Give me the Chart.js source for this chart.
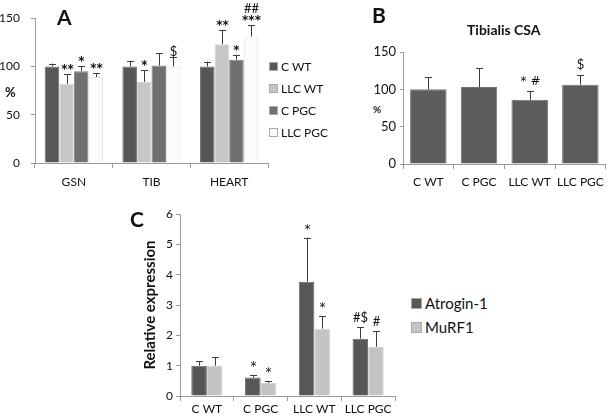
<!DOCTYPE html>
<html>
<head>
<meta charset="utf-8">
<script src="https://cdn.jsdelivr.net/npm/chart.js@4.4.1/dist/chart.umd.min.js"></script>
<style>
  body { margin: 0; background: #fff; font-family: Lato, "Open Sans", sans-serif; }
  #wrap { position: relative; width: 610px; height: 418px; overflow: hidden; background: #fff; }
  canvas, .txt, .legend { position: absolute; }
  .txt { color: #111; white-space: nowrap; }
  .legend div { height: 22px; line-height: 22px; font-size: 12px; color: #111; }
  .legend span { display: inline-block; width: 7px; height: 7px; margin-right: 3px; border: 1px solid #aaa; vertical-align: 0px; }
</style>
</head>
<body>
<div id="wrap">
  <canvas id="chartA" width="272" height="200" style="left:0;top:0"></canvas>
  <canvas id="chartB" width="250" height="200" style="left:360px;top:0"></canvas>
  <canvas id="chartC" width="270" height="218" style="left:130px;top:200px"></canvas>

  <div class="txt" style="left:57px;top:4px;font-size:21px;font-weight:bold">A</div>
  <div class="txt" style="left:372px;top:2px;font-size:21px;font-weight:bold">B</div>
  <div class="txt" style="left:130px;top:206px;font-size:21px;font-weight:bold">C</div>
  <div class="txt" style="left:5px;top:84px;font-size:13px;font-weight:bold">%</div>
  <div class="txt" style="left:373px;top:103px;font-size:10px;font-weight:bold">%</div>
  <div class="txt" style="left:467px;top:21px;font-size:14px;font-weight:bold">Tibialis CSA</div>

  <div class="legend" id="legendA" style="left:269px;top:56px"></div>
  <div class="legend" id="legendC" style="left:411px;top:291px"></div>
</div>
<script>
// ---- panel A: organ mass (%)
const organs = ['GSN', 'TIB', 'HEART'];
const groupsA = ['C WT', 'LLC WT', 'C PGC', 'LLC PGC'];
const colorsA = ['#575757', '#c6c6c6', '#707070', '#fbfbfb'];
const cWtA = [100, 100, 100];
const llcWtA = [82, 84, 123];
const cPgcA = [95, 101, 107];
const llcPgcA = [89, 100, 131];
const cWtErrA = [3, 6, 5];
const llcWtErrA = [10, 12, 15];
const cPgcErrA = [5, 13, 5];
const llcPgcErrA = [4, 10, 12];
const llcWtMarkA = ['**', '*', '**'];
const cPgcMarkA = ['*', '', '*'];
const llcPgcMarkA = ['**', '$', '##\n***'];

// ---- panel B: tibialis CSA (%)
const groupsB = ['C WT', 'C PGC', 'LLC WT', 'LLC PGC'];
const csaB = [100, 103, 86, 106];
const csaErrB = [16, 25, 12, 13];
const csaMarkB = ['', '', '* #', '$'];

// ---- panel C: relative expression
const genes = ['Atrogin-1', 'MuRF1'];
const colorsC = ['#575757', '#c3c3c3'];
const atroginC = [1.0, 0.61, 3.77, 1.89];
const murfC = [1.0, 0.43, 2.22, 1.62];
const atroginErrC = [0.15, 0.07, 1.45, 0.38];
const murfErrC = [0.29, 0.07, 0.41, 0.52];
const atroginMarkC = ['', '*', '*', '#$'];
const murfMarkC = ['', '*', '*', '#'];

const FONT = 'Lato, "Open Sans", sans-serif';
const MARK_FONT = '"DejaVu Sans", Lato, sans-serif';

const errorBars = {
  id: 'errorBars',
  afterDatasetsDraw(chart, args, opts) {
    const ctx = chart.ctx;
    const y = chart.scales.y;
    chart.data.datasets.forEach((ds, di) => {
      const meta = chart.getDatasetMeta(di);
      meta.data.forEach((bar, i) => {
        const top = y.getPixelForValue(ds.data[i] + ds.errors[i]);
        const x = Math.round(bar.x) + 0.5;
        ctx.save();
        ctx.strokeStyle = '#3c3c3c';
        ctx.lineWidth = 1;
        ctx.beginPath();
        ctx.moveTo(x, bar.y);
        ctx.lineTo(x, top);
        ctx.moveTo(x - 3.5, Math.round(top) + 0.5);
        ctx.lineTo(x + 3.5, Math.round(top) + 0.5);
        ctx.stroke();
        const mark = ds.marks && ds.marks[i];
        if (mark) {
          ctx.fillStyle = '#111';
          ctx.textAlign = 'center';
          ctx.textBaseline = 'alphabetic';
          const lines = mark.split('\n').reverse();
          lines.forEach((t, k) => {
            const star = t.indexOf('*') >= 0;
            ctx.font = star
              ? (opts.bold ? 'bold ' : '') + opts.starSize + 'px ' + MARK_FONT
              : opts.size + 'px ' + FONT;
            ctx.fillText(t, x, top - opts.gap - k * opts.lineHeight);
          });
        }
        ctx.restore();
      });
    });
  }
};

function axes(opts) {
  return {
    x: {
      afterFit: s => { s.height = opts.xh; },
      grid: { display: true, drawOnChartArea: false, offset: true, tickLength: 5, color: '#9a9a9a' },
      border: { color: '#9a9a9a' },
      ticks: { color: '#111', font: { family: FONT, size: opts.xSize }, padding: opts.xPad, maxRotation: 0, autoSkip: false }
    },
    y: {
      min: 0, max: opts.max,
      afterFit: s => { s.width = opts.yw; },
      grid: { display: true, drawOnChartArea: false, tickLength: opts.yTick, color: '#9a9a9a' },
      border: { color: '#9a9a9a' },
      ticks: { stepSize: opts.step, color: '#111', font: { family: FONT, size: opts.ySize }, padding: opts.yPad },
      title: opts.title || { display: false }
    }
  };
}

const base = {
  responsive: false,
  animation: false,
  devicePixelRatio: 1,
};

new Chart(document.getElementById('chartA'), {
  type: 'bar',
  data: {
    labels: organs,
    datasets: [
      { label: groupsA[0], data: cWtA, errors: cWtErrA, marks: [], backgroundColor: colorsA[0], borderColor: '#6a6a6a', borderWidth: 1 },
      { label: groupsA[1], data: llcWtA, errors: llcWtErrA, marks: llcWtMarkA, backgroundColor: colorsA[1], borderColor: '#d6d6d6', borderWidth: 1 },
      { label: groupsA[2], data: cPgcA, errors: cPgcErrA, marks: cPgcMarkA, backgroundColor: colorsA[2], borderColor: '#828282', borderWidth: 1 },
      { label: groupsA[3], data: llcPgcA, errors: llcPgcErrA, marks: llcPgcMarkA, backgroundColor: colorsA[3], borderColor: '#e4e4e4', borderWidth: 1 }
    ]
  },
  options: Object.assign({}, base, {
    layout: { padding: { top: 17, right: 4, left: 0, bottom: 0 } },
    datasets: { bar: { categoryPercentage: 0.75, barPercentage: 1 } },
    plugins: { legend: { display: false }, tooltip: { enabled: false },
      errorBars: { size: 13, starSize: 12, gap: 1, lineHeight: 11, bold: true } },
    scales: axes({ xh: 37, yw: 35, max: 150, step: 50, xSize: 12, ySize: 12, xPad: 7, yPad: 11, yTick: 4 })
  }),
  plugins: [errorBars]
});

new Chart(document.getElementById('chartB'), {
  type: 'bar',
  data: {
    labels: groupsB,
    datasets: [
      { label: 'Tibialis CSA', data: csaB, errors: csaErrB, marks: csaMarkB, backgroundColor: '#5c5c5c', borderColor: '#707070', borderWidth: 1 }
    ]
  },
  options: Object.assign({}, base, {
    layout: { padding: { top: 52, right: 1, left: 0, bottom: 0 } },
    datasets: { bar: { categoryPercentage: 0.72, barPercentage: 1 } },
    plugins: { legend: { display: false }, tooltip: { enabled: false },
      errorBars: { size: 13, starSize: 12, gap: 6, lineHeight: 12, bold: false } },
    scales: axes({ xh: 36, yw: 43, max: 150, step: 50, xSize: 12, ySize: 13, xPad: 6, yPad: 4, yTick: 3 })
  }),
  plugins: [errorBars]
});

new Chart(document.getElementById('chartC'), {
  type: 'bar',
  data: {
    labels: groupsB,
    datasets: [
      { label: genes[0], data: atroginC, errors: atroginErrC, marks: atroginMarkC, backgroundColor: colorsC[0], borderColor: '#6a6a6a', borderWidth: 1 },
      { label: genes[1], data: murfC, errors: murfErrC, marks: murfMarkC, backgroundColor: colorsC[1], borderColor: '#d2d2d2', borderWidth: 1 }
    ]
  },
  options: Object.assign({}, base, {
    layout: { padding: { top: 14, right: 5, left: 0, bottom: 0 } },
    datasets: { bar: { categoryPercentage: 0.58, barPercentage: 1 } },
    plugins: { legend: { display: false }, tooltip: { enabled: false },
      errorBars: { size: 13, starSize: 12, gap: 5, lineHeight: 12, bold: false } },
    scales: axes({ xh: 22, yw: 50, max: 6, step: 1, xSize: 12, ySize: 12, xPad: 1, yPad: 3, yTick: 4,
      title: { display: true, text: 'Relative expression', color: '#111',
               font: { family: FONT, size: 15, weight: 'bold' }, padding: { top: 11, bottom: 0 } } })
  }),
  plugins: [errorBars]
});

// legends (HTML text, colours taken from the series colour arrays)
function legend(el, names, colors, size) {
  names.forEach((n, i) => {
    const row = document.createElement('div');
    row.style.fontSize = size + 'px';
    const sw = document.createElement('span');
    sw.style.background = colors[i];
    row.appendChild(sw);
    row.appendChild(document.createTextNode(n));
    el.appendChild(row);
  });
}
legend(document.getElementById('legendA'), groupsA, colorsA, 12);
legend(document.getElementById('legendC'), genes, colorsC, 15);
document.getElementById('legendC').querySelectorAll('div').forEach(d => { d.style.height = '24px'; d.style.lineHeight = '24px'; });
document.getElementById('legendC').querySelectorAll('span').forEach(s => { s.style.width = '9px'; s.style.height = '9px'; });
</script>
</body>
</html>
